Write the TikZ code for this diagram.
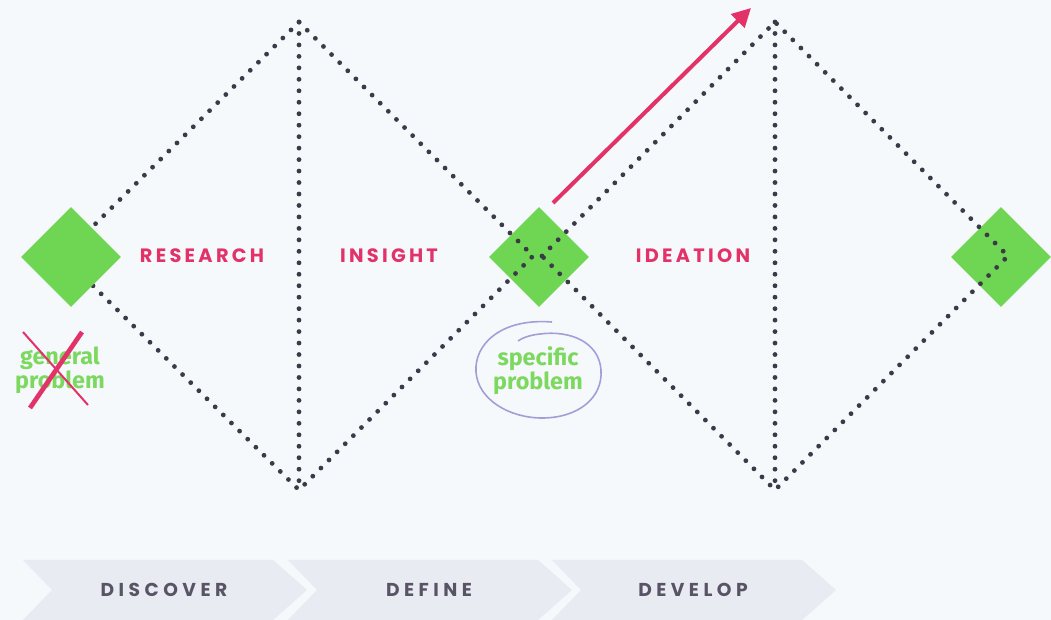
\documentclass[tikz,border=0pt]{standalone}
\usepackage{fontspec}
\setmainfont{Poppins}
\newfontfamily\stagefont[LetterSpace=17]{Poppins}
\newfontfamily\phasefont[LetterSpace=24]{Poppins}
\newfontfamily\notefont{Fira Sans}
\usetikzlibrary{arrows.meta,shapes.geometric}
\definecolor{bgcol}{RGB}{245,249,252}
\definecolor{dotcol}{RGB}{58,58,72}
\definecolor{leafgreen}{RGB}{110,214,82}
\definecolor{notegreen}{RGB}{125,216,96}
\definecolor{rosered}{RGB}{226,50,104}
\definecolor{chevfill}{RGB}{232,235,242}
\definecolor{chevtext}{RGB}{88,84,102}
\definecolor{ringcol}{RGB}{160,160,215}

\tikzset{every picture/.style={line width=0.75pt},
	dotline/.style={draw=dotcol, line width=3.6pt, line cap=round, dash pattern=on 0pt off 8.6pt},
	gem/.style={shape=diamond, fill=leafgreen, draw=none, inner sep=0pt, minimum width=75pt, minimum height=75pt},
	stagelabel/.style={text=rosered, font=\stagefont\bfseries\fontsize{14.5}{16}\selectfont},
	phaselabel/.style={text=chevtext, font=\phasefont\bfseries\fontsize{14}{16}\selectfont},
	notelabel/.style={text=notegreen, font=\notefont\bfseries\fontsize{17.5}{18}\selectfont, align=center}
}

\begin{document}
\begin{tikzpicture}[x=0.75pt,y=0.75pt,yscale=-1,xscale=1]
	\useasboundingbox (0,0) rectangle (1051,620);
	\fill[bgcol] (0,0) rectangle (1051,620);

	% Corners of the two diamonds
	\coordinate (d1l) at (63,256);
	\coordinate (d1t) at (299,22);
	\coordinate (d1b) at (299,490);
	\coordinate (d1r) at (533,256);
	\coordinate (d2l) at (542,256);
	\coordinate (d2t) at (775,22);
	\coordinate (d2b) at (775,490);
	\coordinate (d2r) at (1008,256);

	%Shape: Diamond
	\node[gem] (midgem) at (539,257) {};
	%Shape: Diamond
	\node[gem] (endgem) at (1001,257) {};

	%Dotted Lines
	\draw[dotline] (d1l) -- (d1t) -- (d1r) -- (d1b) -- cycle;
	\draw[dotline] (d1t) -- (d1b);
	\draw[dotline] (d2l) -- (d2t) -- (d2r) -- (d2b) -- cycle;
	\draw[dotline] (d2t) -- (d2b);

	%Shape: Diamond
	\node[gem] (startgem) at (71,257) {};

	%Straight Lines
	\coordinate (arrfrom) at (553,203);
	\coordinate (arrto) at (751,8);
	\draw[rosered, line width=3pt, -{Triangle[length=14pt, width=14pt]}] (arrfrom) -- (arrto);

	% Text Node
	\node[stagelabel] (research) at (202,256) {RESEARCH};
	% Text Node
	\node[stagelabel] (insight) at (389,256) {INSIGHT};
	% Text Node
	\node[stagelabel] (ideation) at (693,256) {IDEATION};

	% Text Node
	\node[notelabel] (general) at (60,370) {general\\problem};
	%Straight Lines
	\coordinate (xa) at (82,332);
	\coordinate (xb) at (30,408);
	\coordinate (xc) at (23,332);
	\coordinate (xd) at (88,405);
	\draw[rosered, line width=3.5pt] (xa) -- (xb);
	\draw[rosered, line width=1.5pt] (xc) -- (xd);

	% Text Node
	\node[notelabel] (specific) at (538,371) {specific\\problem};
	%Shape: Ellipse
	\draw[ringcol, line width=1.2pt] (552,322) .. controls (500,318) and (474,345) .. (476,372) .. controls (478,400) and (510,418) .. (542,418) .. controls (578,418) and (603,398) .. (601,370) .. controls (599,342) and (570,330) .. (540,334) .. controls (530,335) and (522,338) .. (518,341);

	%Chevrons
	\foreach \x/\t/\n in {23/DISCOVER/discover, 288/DEFINE/define, 552/DEVELOP/develop} {
		\fill[chevfill] (\x,560) -- ++(250,0) -- ++(34,30) -- ++(-34,30) -- ++(-250,0) -- ++(29,-30) -- cycle;
		\node[phaselabel] (\n) at (\x+141,590) {\t};
	}

\end{tikzpicture}
\end{document}
